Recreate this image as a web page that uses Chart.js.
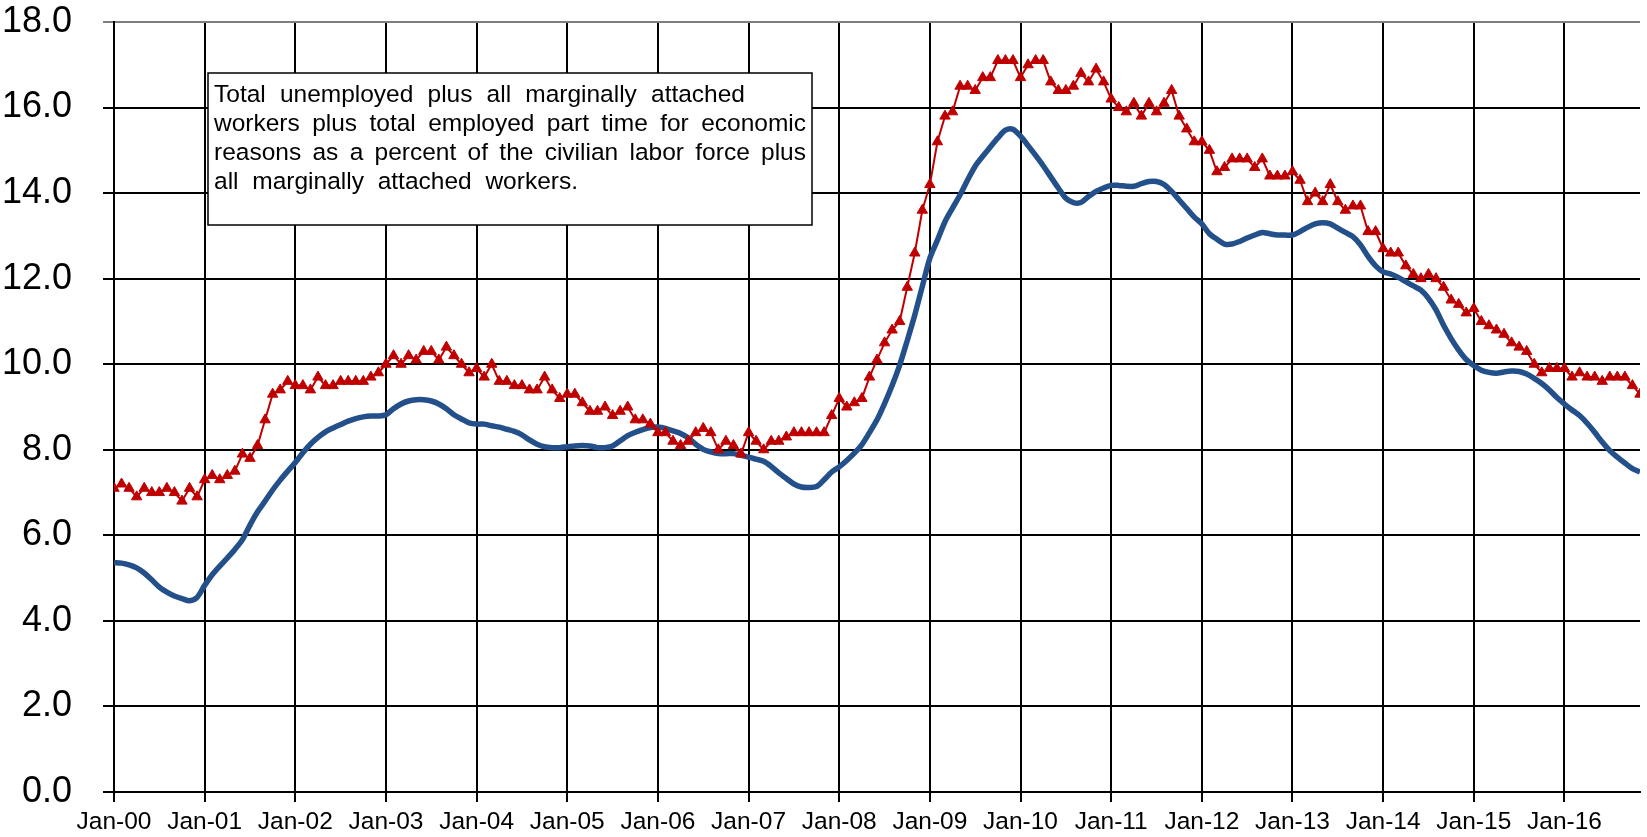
<!DOCTYPE html>
<html>
<head>
<meta charset="utf-8">
<script src="https://cdn.jsdelivr.net/npm/chart.js@4/dist/chart.umd.min.js"></script>
<style>
  body { margin: 0; background: #fff; }
  #wrap { width: 1647px; height: 837px; }
</style>
</head>
<body>
<div id="wrap"><canvas id="lineChart" width="1647" height="837"></canvas></div>
<script>
// x axis: one point per month, Jan-00 .. Nov-16
const yearLabels = ['Jan-00', 'Jan-01', 'Jan-02', 'Jan-03', 'Jan-04', 'Jan-05', 'Jan-06', 'Jan-07', 'Jan-08',
    'Jan-09', 'Jan-10', 'Jan-11', 'Jan-12', 'Jan-13', 'Jan-14', 'Jan-15', 'Jan-16'];

// red triangles, monthly
const u6Monthly = [
    7.1, 7.2, 7.1, 6.9, 7.1, 7.0, 7.0, 7.1, 7.0, 6.8, 7.1, 6.9,
    7.3, 7.4, 7.3, 7.4, 7.5, 7.9, 7.8, 8.1, 8.7, 9.3, 9.4, 9.6,
    9.5, 9.5, 9.4, 9.7, 9.5, 9.5, 9.6, 9.6, 9.6, 9.6, 9.7, 9.8,
    10.0, 10.2, 10.0, 10.2, 10.1, 10.3, 10.3, 10.1, 10.4, 10.2, 10.0, 9.8,
    9.9, 9.7, 10.0, 9.6, 9.6, 9.5, 9.5, 9.4, 9.4, 9.7, 9.4, 9.2,
    9.3, 9.3, 9.1, 8.9, 8.9, 9.0, 8.8, 8.9, 9.0, 8.7, 8.7, 8.6,
    8.4, 8.4, 8.2, 8.1, 8.2, 8.4, 8.5, 8.4, 8.0, 8.2, 8.1, 7.9,
    8.4, 8.2, 8.0, 8.2, 8.2, 8.3, 8.4, 8.4, 8.4, 8.4, 8.4, 8.8,
    9.2, 9.0, 9.1, 9.2, 9.7, 10.1, 10.5, 10.8, 11.0, 11.8, 12.6, 13.6,
    14.2, 15.2, 15.8, 15.9, 16.5, 16.5, 16.4, 16.7, 16.7, 17.1, 17.1, 17.1,
    16.7, 17.0, 17.1, 17.1, 16.6, 16.4, 16.4, 16.5, 16.8, 16.6, 16.9, 16.6,
    16.2, 16.0, 15.9, 16.1, 15.8, 16.1, 15.9, 16.1, 16.4, 15.8, 15.5, 15.2,
    15.2, 15.0, 14.5, 14.6, 14.8, 14.8, 14.8, 14.6, 14.8, 14.4, 14.4, 14.4,
    14.5, 14.3, 13.8, 14.0, 13.8, 14.2, 13.8, 13.6, 13.7, 13.7, 13.1, 13.1,
    12.7, 12.6, 12.6, 12.3, 12.1, 12.0, 12.1, 12.0, 11.8, 11.5, 11.4, 11.2,
    11.3, 11.0, 10.9, 10.8, 10.7, 10.5, 10.4, 10.3, 10.0, 9.8, 9.9, 9.9,
    9.9, 9.7, 9.8, 9.7, 9.7, 9.6, 9.7, 9.7, 9.7, 9.5, 9.3
];

// blue line, monthly
const stateAverage = [
    5.36, 5.35, 5.31, 5.24, 5.12, 4.96, 4.79, 4.67, 4.58, 4.52, 4.47, 4.55,
    4.83, 5.08, 5.28, 5.47, 5.67, 5.90, 6.24, 6.55, 6.80, 7.06, 7.29, 7.50,
    7.70, 7.93, 8.13, 8.29, 8.42, 8.51, 8.59, 8.67, 8.73, 8.77, 8.79, 8.79,
    8.82, 8.96, 9.07, 9.14, 9.17, 9.17, 9.14, 9.07, 8.96, 8.82, 8.72, 8.63,
    8.60, 8.60, 8.56, 8.53, 8.48, 8.43, 8.35, 8.23, 8.13, 8.07, 8.05, 8.05,
    8.07, 8.09, 8.10, 8.09, 8.05, 8.05, 8.09, 8.21, 8.33, 8.41, 8.47, 8.52,
    8.53, 8.50, 8.44, 8.38, 8.28, 8.13, 8.01, 7.95, 7.91, 7.91, 7.91, 7.87,
    7.83, 7.78, 7.73, 7.61, 7.46, 7.33, 7.20, 7.13, 7.12, 7.14, 7.30, 7.48,
    7.60, 7.75, 7.92, 8.12, 8.40, 8.70, 9.08, 9.50, 9.98, 10.55, 11.15, 11.82,
    12.48, 12.90, 13.33, 13.65, 13.96, 14.31, 14.63, 14.86, 15.08, 15.29, 15.47, 15.49,
    15.33, 15.11, 14.88, 14.64, 14.38, 14.12, 13.88, 13.78, 13.78, 13.92, 14.04, 14.12,
    14.18, 14.18, 14.16, 14.16, 14.22, 14.27, 14.27, 14.20, 14.04, 13.84, 13.64, 13.44,
    13.28, 13.05, 12.92, 12.81, 12.81, 12.87, 12.95, 13.02, 13.08, 13.05, 13.02, 13.02,
    13.02, 13.10, 13.20, 13.28, 13.31, 13.28, 13.18, 13.08, 12.98, 12.79, 12.52, 12.30,
    12.16, 12.11, 12.03, 11.93, 11.83, 11.73, 11.54, 11.27, 10.91, 10.60, 10.33, 10.11,
    9.97, 9.86, 9.81, 9.79, 9.82, 9.84, 9.83, 9.77, 9.67, 9.55, 9.40, 9.22,
    9.07, 8.93, 8.80, 8.62, 8.41, 8.18, 7.98, 7.83, 7.69, 7.56, 7.48
];

const noteLines = [
    'Total unemployed plus all marginally attached',
    'workers plus total employed part time for economic',
    'reasons as a percent of the civilian labor force plus',
    'all marginally attached workers.'
];

const FONT = "'Liberation Sans', Arial, sans-serif";

// boîte de texte dessinée par-dessus la grille
const noteBox = {
    id: 'noteBox',
    afterDraw(chart) {
        const ctx = chart.ctx;
        ctx.save();
        ctx.fillStyle = '#fff';
        ctx.fillRect(208, 73, 604, 152);
        ctx.strokeStyle = '#000';
        ctx.lineWidth = 1.5;
        ctx.strokeRect(208, 73, 604, 152);
        ctx.fillStyle = '#000';
        ctx.font = '24.5px ' + FONT;
        ctx.textBaseline = 'alphabetic';
        const widths = [531, 592, 592, 364];
        noteLines.forEach((line, i) => {
            const words = line.split(' ');
            const total = words.reduce((s, w) => s + ctx.measureText(w).width, 0);
            const gap = Math.max((widths[i] - total) / (words.length - 1), 4);
            let x = 214;
            words.forEach(w => {
                ctx.fillText(w, x, 102 + i * 29);
                x += ctx.measureText(w).width + gap;
            });
        });
        ctx.restore();
    }
};

const lineData = {
    datasets: [{
        label: 'U-6 monthly',
        data: u6Monthly.map((v, i) => ({ x: i, y: v })),
        borderColor: '#C00000',
        backgroundColor: '#C00000',
        borderWidth: 2,
        pointStyle: 'triangle',
        pointRadius: 6,
        pointBorderWidth: 1,
        tension: 0
    }, {
        label: 'Average',
        data: stateAverage.map((v, i) => ({ x: i, y: v })),
        borderColor: '#23508A',
        borderWidth: 5.5,
        pointRadius: 0,
        tension: 0.3
    }]
};

const lineOptions = {
    responsive: false,
    animation: false,
    layout: { padding: { top: 22, right: 0, bottom: 0, left: 0 } },
    plugins: {
        legend: { display: false },
        tooltip: { enabled: false }
    },
    scales: {
        x: {
            type: 'linear',
            min: 0,
            max: 202,
            grid: { color: '#000', lineWidth: 2, tickLength: 10 },
            border: { color: '#000', width: 2 },
            ticks: {
                stepSize: 12,
                includeBounds: false,
                autoSkip: false,
                maxRotation: 0,
                padding: 6,
                color: '#000',
                font: { family: FONT, size: 24.5 },
                callback: value => yearLabels[value / 12]
            },
            afterFit: scale => { scale.height = 45; }
        },
        y: {
            min: 0,
            max: 18,
            grid: {
                color: ctx => ctx.tick && ctx.tick.value === 18 ? '#7f7f7f' : '#000',
                lineWidth: 2,
                tickLength: 11
            },
            border: { color: '#000', width: 2 },
            ticks: {
                stepSize: 2,
                padding: 31,
                color: '#000',
                font: { family: FONT, size: 36 },
                callback: value => value.toFixed(1)
            },
            afterFit: scale => {
                scale.width = 114;
                scale.paddingTop = 0;
                scale.paddingBottom = 0;
            }
        }
    }
};

let lineCanvas = document.getElementById('lineChart');
let lineCtx = lineCanvas.getContext('2d');

const myLineChart = new Chart(lineCtx, {
    type: 'line',
    data: lineData,
    options: lineOptions,
    plugins: [noteBox]
});
</script>
</body>
</html>
